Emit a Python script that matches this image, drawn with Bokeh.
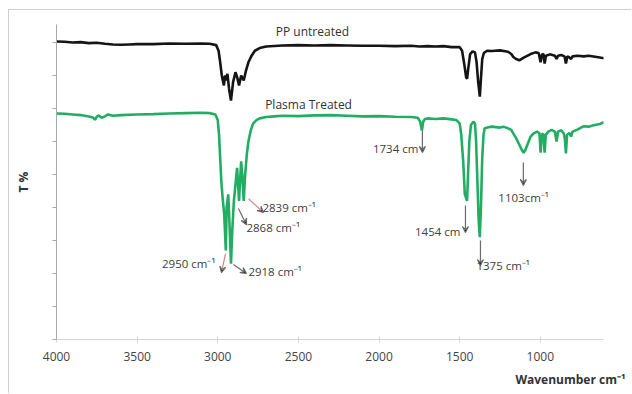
from bokeh.plotting import figure
from bokeh.models import Range1d, Arrow, VeeHead, ColumnDataSource, FixedTicker, LabelSet, Label, Title
from bokeh.core.properties import value
from bokeh.embed import file_html
from bokeh.resources import INLINE

# ---------------- data ----------------
pp_wn = [4000, 3950, 3900, 3850, 3800, 3750, 3700, 3650, 3600, 3550,
         3500, 3400, 3300, 3200, 3100, 3050, 3010, 2995, 2985, 2975,
         2962, 2955, 2950, 2940, 2930, 2918, 2905, 2890, 2880, 2868,
         2855, 2839, 2825, 2810, 2790, 2770, 2740, 2700, 2600, 2500,
         2400, 2300, 2200, 2100, 2000, 1900, 1800, 1750, 1700, 1650,
         1600, 1550, 1500, 1485, 1470, 1460, 1454, 1447, 1435, 1420,
         1405, 1395, 1385, 1375, 1368, 1360, 1350, 1330, 1300, 1250,
         1200, 1180, 1167, 1150, 1130, 1100, 1060, 1030, 1010, 998,
         990, 980, 973, 965, 940, 910, 899, 890, 870, 850,
         841, 832, 820, 809, 800, 770, 730, 700, 650, 600]
pp_t = [90.3, 90.2, 90.0, 90.1, 89.8, 89.9, 89.6, 89.4, 89.3, 89.4,
        89.5, 89.5, 89.7, 89.6, 89.7, 89.6, 89.2, 87.5, 84.0, 80.0,
        77.0, 80.0, 78.5, 80.5, 76.0, 72.4, 78.0, 81.0, 79.5, 77.0,
        80.0, 78.5, 81.5, 84.0, 86.0, 87.5, 88.3, 88.8, 89.1, 89.2,
        89.1, 89.2, 89.1, 89.0, 89.0, 88.9, 89.0, 88.8, 88.9, 88.8,
        88.9, 88.6, 88.6, 87.5, 83.0, 79.5, 79.0, 82.0, 86.5, 87.3,
        87.0, 84.0, 78.0, 73.6, 79.0, 85.0, 86.8, 87.5, 87.4, 87.6,
        87.2, 86.5, 85.6, 85.0, 84.6, 85.5, 86.5, 87.0, 86.8, 84.0,
        86.3, 86.5, 83.6, 86.0, 86.4, 86.0, 85.0, 86.0, 86.2, 85.8,
        83.6, 85.8, 85.5, 85.0, 85.8, 86.0, 85.8, 86.0, 85.6, 85.2]

pl_wn = [4000, 3950, 3900, 3850, 3800, 3775, 3760, 3750, 3740, 3720,
         3700, 3680, 3650, 3600, 3500, 3400, 3300, 3200, 3100, 3050,
         3015, 3000, 2992, 2985, 2978, 2970, 2960, 2950, 2945, 2935,
         2928, 2918, 2910, 2900, 2890, 2880, 2868, 2855, 2848, 2839,
         2830, 2820, 2810, 2795, 2780, 2760, 2740, 2700, 2650, 2600,
         2500, 2400, 2300, 2200, 2100, 2000, 1900, 1800, 1760, 1745,
         1734, 1726, 1715, 1700, 1650, 1600, 1550, 1520, 1500, 1490,
         1478, 1468, 1454, 1448, 1440, 1430, 1415, 1405, 1398, 1390,
         1382, 1375, 1368, 1360, 1352, 1345, 1320, 1300, 1250, 1230,
         1200, 1180, 1167, 1150, 1130, 1115, 1103, 1092, 1080, 1060,
         1043, 1020, 1005, 998, 992, 982, 973, 966, 950, 930,
         910, 899, 890, 870, 855, 848, 841, 834, 820, 809,
         800, 770, 733, 700, 670, 630, 600]
pl_t = [68.5, 68.4, 68.2, 68.0, 67.6, 67.3, 66.6, 67.5, 67.9, 67.2,
        67.6, 68.2, 67.8, 68.0, 68.2, 68.3, 68.5, 68.6, 68.7, 68.6,
        68.2, 66.5, 62.0, 55.0, 48.0, 43.0, 38.0, 27.0, 40.0, 44.0,
        36.0, 23.0, 33.0, 42.0, 47.0, 52.0, 42.0, 54.0, 50.0, 42.0,
        50.0, 56.0, 60.0, 63.5, 65.5, 66.5, 67.0, 67.4, 67.6, 67.8,
        67.7, 67.9, 68.0, 67.8, 67.6, 67.7, 67.5, 67.4, 67.2, 66.0,
        63.3, 66.0, 66.8, 67.0, 66.8, 67.0, 66.7, 66.5, 65.5, 62.0,
        54.0, 44.0, 42.0, 50.0, 60.0, 65.0, 66.0, 65.5, 60.0, 48.0,
        36.0, 31.0, 40.0, 55.0, 62.0, 64.0, 64.3, 64.5, 64.2, 64.5,
        64.0, 63.5, 62.4, 61.0, 59.0, 57.5, 56.6, 57.5, 59.0, 61.5,
        62.4, 63.0, 62.5, 56.6, 62.0, 62.4, 56.6, 62.0, 63.0, 63.5,
        63.0, 60.0, 63.0, 63.4, 62.5, 61.0, 56.4, 62.0, 62.6, 61.5,
        63.0, 63.6, 64.6, 64.5, 64.9, 65.3, 66.0]

x_ticks = [4000, 3500, 3000, 2500, 2000, 1500, 1000]
y_ticks = [0, 10, 20, 30, 40, 50, 60, 70, 80, 90]

series_names = ["PP untreated", "Plasma Treated"]
series_name_x = [2413, 2437]
series_name_y = [93.3, 71.2]

peak_text = ["1734 cm", "1454 cm", "1375 cm\u207b\u00b9", "1103cm\u207b\u00b9",
             "2839 cm\u207b\u00b9", "2868 cm\u207b\u00b9", "2950 cm\u207b\u00b9", "2918 cm\u207b\u00b9"]
peak_text_x = [1756, 1495, 1396, 1260, 2723, 2822, 3014, 2810]
peak_text_y = [57.9, 32.7, 22.4, 43.0, 40.0, 34.0, 23.0, 20.6]
peak_text_align = ["right", "right", "left", "left", "left", "left", "right", "left"]

arr_x0 = [1731, 1464, 1371, 1105, 2810, 2872, 2952, 2903]
arr_y0 = [63.3, 40.6, 30.0, 53.6, 42.7, 39.7, 26.0, 22.7]
arr_x1 = [1731, 1464, 1371, 1105, 2717, 2822, 2977, 2822]
arr_y1 = [56.7, 32.4, 22.4, 46.7, 38.5, 34.8, 20.3, 20.0]
arr_color = ["#6a6a6a", "#6a6a6a", "#6a6a6a", "#6a6a6a", "#c98a94", "#6a6a6a", "#c98a94", "#6a6a6a"]

# ---------------- figure ----------------
# canvas placed at page (9, 10); frame spans page x 56..603, y 24..339
W, H = 623, 384
p = figure(width=W, height=H, output_backend="svg", toolbar_location=None,
           x_range=Range1d(4000, 608), y_range=Range1d(0, 95.45),
           min_border_left=47, min_border_right=29, min_border_top=14, min_border_bottom=55)
p.margin = (9, 0, 0, 8)
p.styles = {"border-left": "1px solid #cfcfcf", "border-top": "1px solid #cfcfcf"}
p.outline_line_color = None
p.grid.visible = False
p.background_fill_color = "white"
p.border_fill_color = "white"

p.xaxis.ticker = FixedTicker(ticks=x_ticks)
p.xaxis.axis_line_color = "#d4d4d4"
p.xaxis.major_tick_line_color = "#d4d4d4"
p.xaxis.major_tick_in = 3
p.xaxis.major_tick_out = 3
p.xaxis.minor_tick_line_color = None
p.xaxis.major_label_text_font = "Open Sans"
p.xaxis.major_label_text_font_size = "12px"
p.xaxis.major_label_text_color = "#444444"
p.xaxis.major_label_standoff = 9

p.yaxis.ticker = FixedTicker(ticks=y_ticks)
p.yaxis.axis_line_color = "#a8a8a8"
p.yaxis.major_tick_line_color = "#a8a8a8"
p.yaxis.major_tick_in = 0
p.yaxis.major_tick_out = 4
p.yaxis.minor_tick_line_color = None
p.yaxis.major_label_text_font_size = "0px"
p.yaxis.major_label_standoff = 0
p.yaxis.axis_label = "T %"
p.yaxis.axis_label_text_font = "Open Sans"
p.yaxis.axis_label_text_font_style = "bold"
p.yaxis.axis_label_text_font_size = "12px"
p.yaxis.axis_label_text_color = "#333333"
p.yaxis.axis_label_standoff = 21

xt = Title(text="Wavenumber cm\u207b\u00b9", align="right", text_font="Open Sans",
           text_font_style="bold", text_font_size="12px", text_color="#333333",
           offset=-22, standoff=11)
p.add_layout(xt, "below")

p.line(pp_wn, pp_t, line_color="#151515", line_width=2.6)
p.line(pl_wn, pl_t, line_color="#22ad63", line_width=2.6)

# series names
for name, sx, sy in zip(series_names, series_name_x, series_name_y):
    p.add_layout(Label(x=sx, y=sy, text=name, text_align="center", text_baseline="middle",
                       text_font="Open Sans", text_font_size="12px", text_color="#333333"))

# arrows
arr_src = ColumnDataSource(dict(x0=arr_x0, y0=arr_y0, x1=arr_x1, y1=arr_y1, c=arr_color))
p.add_layout(Arrow(source=arr_src, x_start="x0", y_start="y0", x_end="x1", y_end="y1",
                   line_color="c", line_width=1.2,
                   end=VeeHead(size=6, line_color="#6a6a6a", line_width=1.2)))

# peak labels
lab_src = ColumnDataSource(dict(x=peak_text_x, y=peak_text_y, t=peak_text, a=peak_text_align))
p.add_layout(LabelSet(source=lab_src, x="x", y="y", text="t", text_align="a",
                      text_baseline="middle", text_font=value("Open Sans"),
                      text_font_size="11.5px", text_color="#404040"))

open("out.html", "w").write(file_html(p, INLINE))
